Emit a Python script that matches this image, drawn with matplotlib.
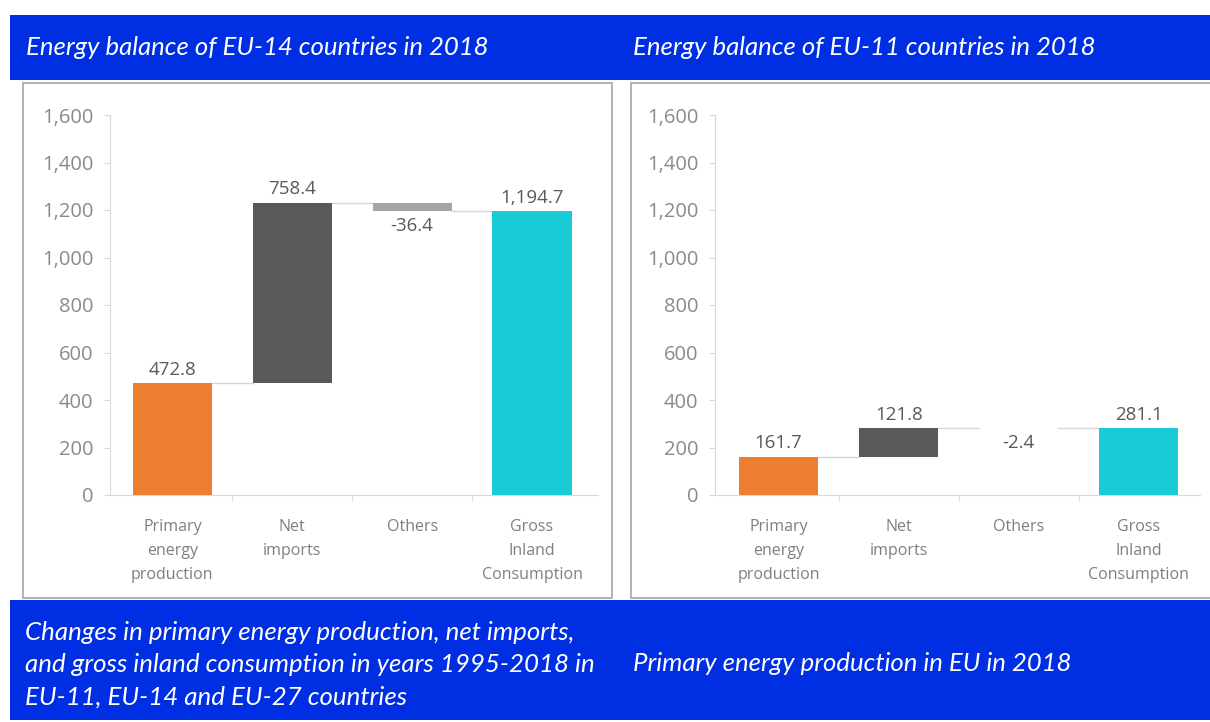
import matplotlib.pyplot as plt
from matplotlib.patches import Rectangle
from matplotlib.ticker import FuncFormatter

# data
categories = ['Primary\nenergy\nproduction', 'Net\nimports', 'Others', 'Gross\nInland\nConsumption']
eu14_values = [472.8, 758.4, -36.4, 1194.7]
eu11_values = [161.7, 121.8, -2.4, 281.1]
bar_colors = ['#ED7D31', '#595959', '#A5A5A5', '#19CBD6']

header_left = 'Energy balance of EU-14 countries in 2018'
header_right = 'Energy balance of EU-11 countries in 2018'
footer_left = ['Changes in primary energy production, net imports,',
               'and gross inland consumption in years 1995-2018 in',
               'EU-11, EU-14 and EU-27 countries']
footer_right = 'Primary energy production in EU in 2018'

BLUE = '#002EE3'
W, H = 1210, 722

fig = plt.figure(figsize=(W / 100, H / 100), dpi=100)
fig.patch.set_facecolor('white')


def box(x0, y0, x1, y1, **kw):
    # pixel coords, origin top-left
    fig.patches.append(Rectangle((x0 / W, 1 - y1 / H), (x1 - x0) / W, (y1 - y0) / H,
                                 transform=fig.transFigure, figure=fig, zorder=-5, **kw))


def ftext(x, y, s, **kw):
    fig.text(x / W, 1 - y / H, s, **kw)


# background bands and panels
box(10, 15, 1210, 80, facecolor=BLUE, edgecolor='none')
box(10, 600, 1210, 720, facecolor=BLUE, edgecolor='none')
box(23, 83, 612, 598, facecolor='white', edgecolor='#a6a6a6', lw=1.2)
box(631, 83, 1212, 598, facecolor='white', edgecolor='#a6a6a6', lw=1.2)

hfont = dict(family='Lato', style='italic', color='white', va='baseline', ha='left')
ftext(26, 55, header_left, fontsize=18.5, **hfont)
ftext(633, 55, header_right, fontsize=18.5, **hfont)
for i, line in enumerate(footer_left):
    ftext(25, 640 + 32.5 * i, line, fontsize=18.6, **hfont)
ftext(633, 671, footer_right, fontsize=18.5, **hfont)


def waterfall(ax, values, xlim):
    x = list(range(len(values)))
    bw = 0.66
    start = [0, values[0], values[0] + values[1], 0]
    heights = [values[0], values[1], values[2], values[3]]
    ax.bar(x, heights, bottom=start, width=bw, color=bar_colors, zorder=3)

    # connector lines
    levels = [values[0], values[0] + values[1], values[0] + values[1] + values[2]]
    for i, lv in enumerate(levels):
        ax.plot([i + bw / 2, i + 1 - bw / 2], [lv, lv], color='#d6d6d6', lw=1, zorder=2)

    # value labels
    for i, v in enumerate(values):
        if i == 3:
            top = v
        else:
            top = start[i] + max(v, 0)
        if v >= 0:
            ax.annotate(f'{v:,.1f}', (i, top), xytext=(0, 3), textcoords='offset points',
                        ha='center', va='bottom', fontsize=13.5, color='#595959', family='Open Sans')
        else:
            bot = start[i] + v
            ax.annotate(f'{v:,.1f}', (i, bot), xytext=(0, -4), textcoords='offset points',
                        ha='center', va='top', fontsize=13.5, color='#595959', family='Open Sans')

    ax.set_ylim(0, 1600)
    ax.set_xlim(*xlim)
    ax.set_yticks(range(0, 1601, 200))
    ax.yaxis.set_major_formatter(FuncFormatter(lambda v, p: f'{v:,.0f}'))
    ax.set_xticks(x)
    ax.set_xticklabels(categories, fontsize=11.5, color='#7f7f7f', family='Open Sans',
                       linespacing=1.7, va='top')
    ax.set_xticks([0.5, 1.5, 2.5], minor=True)
    ax.tick_params(axis='x', which='major', length=0, pad=17)
    ax.tick_params(axis='x', which='minor', length=4, color='#d9d9d9')
    ax.tick_params(axis='y', length=4, color='#d9d9d9', labelcolor='#8a8a8a',
                   labelsize=14.5, pad=8)
    for lbl in ax.get_yticklabels():
        lbl.set_family('Open Sans')
    for s in ['top', 'right']:
        ax.spines[s].set_visible(False)
    for s in ['left', 'bottom']:
        ax.spines[s].set_color('#d9d9d9')
    ax.set_facecolor('white')


ax1 = fig.add_axes([110 / W, 1 - 495 / H, (598 - 110) / W, 380 / H])
waterfall(ax1, eu14_values, (-0.52, 3.55))

ax2 = fig.add_axes([715 / W, 1 - 495 / H, (1200 - 715) / W, 380 / H])
waterfall(ax2, eu11_values, (-0.53, 3.51))

fig.savefig('out.png', dpi=100, facecolor='white')
